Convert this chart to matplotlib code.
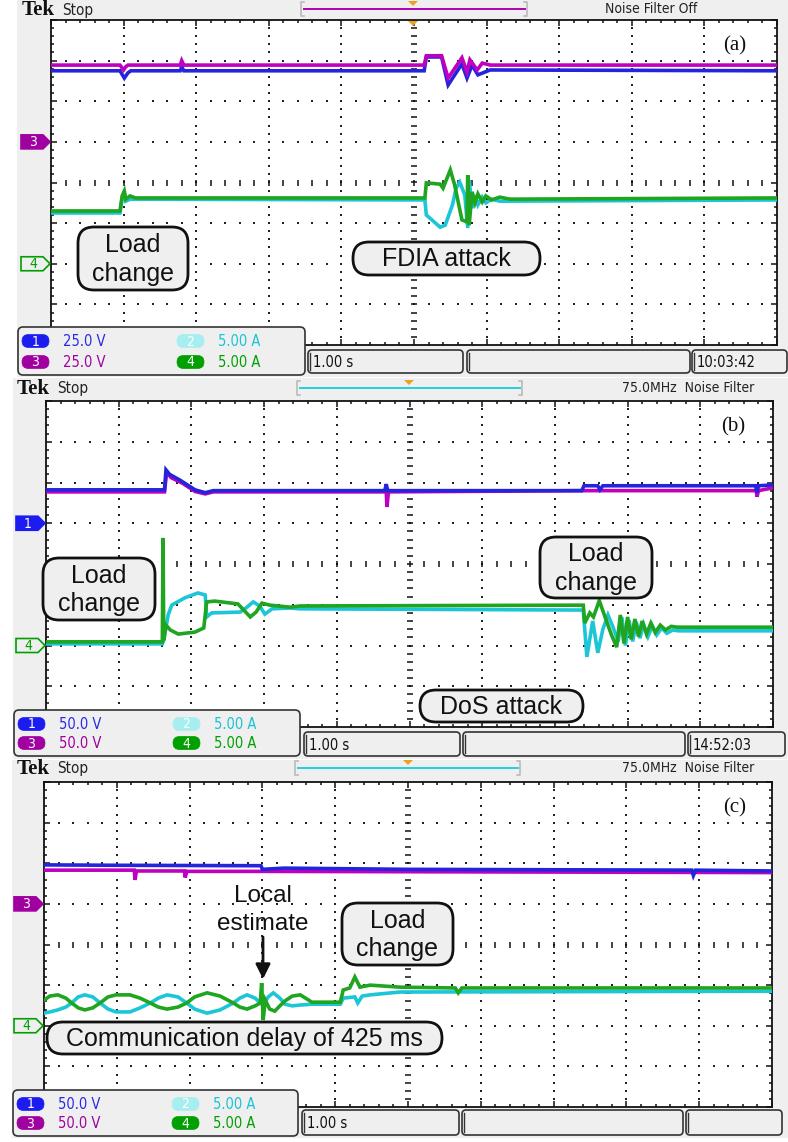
import matplotlib
matplotlib.use('Agg')
import matplotlib.pyplot as plt
import numpy as np
from matplotlib.patches import FancyBboxPatch, Polygon, Rectangle

W, H = 788, 1142

# ---- trace data: time in s (1.00 s/div), level in screen divisions ----
# panel (a)  FDIA attack
a_t_ch1 = [0, 0.95, 1.01, 1.06, 1.10, 1.78, 1.80, 1.83, 5.14, 5.17, 5.38, 5.47, 5.66, 5.73, 5.80, 5.88, 6.05, 10]
a_ch1 = [2.75, 2.75, 2.57, 2.70, 2.75, 2.75, 2.85, 2.75, 2.75, 3.09, 3.09, 2.40, 2.92, 2.57, 2.89, 2.65, 2.77, 2.75]
a_t_ch3 = [0, 0.95, 1.0, 1.03, 1.06, 1.78, 1.80, 1.83, 5.14, 5.17, 5.38, 5.47, 5.66, 5.73, 5.77, 5.87, 5.94, 6.05, 10]
a_ch3 = [2.89, 2.89, 2.77, 2.85, 2.89, 2.89, 3.0, 2.89, 2.89, 3.12, 3.12, 2.57, 3.07, 2.72, 3.02, 2.77, 2.94, 2.89, 2.89]
a_t_ch4 = [0, 0.95, 0.98, 1.01, 1.03, 1.09, 1.16, 5.15, 5.17, 5.36, 5.40, 5.50, 5.56, 5.66, 5.73, 5.74,
           5.76, 5.80, 5.84, 5.88, 5.94, 5.99, 6.07, 6.18, 6.32, 10]
a_ch4 = [-0.70, -0.70, -0.33, -0.21, -0.41, -0.33, -0.38, -0.38, -0.01, -0.04, -0.14, 0.31, -0.06, -0.92, -0.97, 0.18,
         -1.05, -0.23, -0.50, -0.28, -0.48, -0.33, -0.43, -0.36, -0.41, -0.38]
a_t_ch2 = [0, 0.95, 0.98, 1.01, 1.03, 1.09, 5.15, 5.17, 5.36, 5.43, 5.53, 5.58, 5.63, 5.70, 5.74, 5.76,
           5.80, 5.84, 5.88, 5.94, 5.99, 6.07, 6.18, 10]
a_ch2 = [-0.75, -0.75, -0.41, -0.26, -0.46, -0.41, -0.43, -0.80, -1.10, -1.05, -0.55, -0.14, 0.01, -0.31, -1.12, 0.06,
         -0.63, -0.31, -0.55, -0.36, -0.50, -0.41, -0.46, -0.43]

# panel (b)  DoS attack
b_t_ch1 = [0, 1.63, 1.65, 1.70, 1.85, 2.05, 2.19, 2.30, 4.66, 4.68, 4.70, 7.37, 7.40, 7.59, 7.62, 7.66, 9.76, 9.78, 9.80, 10]
b_ch1 = [1.82, 1.82, 2.31, 2.20, 2.05, 1.82, 1.75, 1.80, 1.80, 1.96, 1.80, 1.80, 1.92, 1.92, 1.82, 1.92, 1.92, 1.75, 1.92, 1.94]
b_t_ch3 = [0, 1.63, 1.66, 1.72, 1.88, 2.05, 2.19, 2.30, 4.68, 4.69, 4.71, 7.4, 9.77, 9.78, 9.80, 10]
b_ch3 = [1.77, 1.77, 2.25, 2.12, 1.98, 1.78, 1.72, 1.77, 1.77, 1.40, 1.77, 1.80, 1.80, 1.65, 1.80, 1.87]
b_t_ch4 = [0, 1.60, 1.61, 1.62, 1.65, 1.71, 1.82, 2.05, 2.17, 2.21, 2.32, 2.64, 2.81, 2.89, 2.97, 3.08, 3.36, 3.49,
           7.35, 7.39, 7.41, 7.48, 7.53, 7.61, 7.70, 7.78, 7.85, 7.90, 7.95, 8.00, 8.05, 8.10, 8.15, 8.20, 8.26,
           8.32, 8.38, 8.45, 8.52, 8.60, 8.68, 10]
b_ch4 = [-1.91, -1.91, 0.64, -1.87, -1.50, -1.62, -1.72, -1.67, -1.57, -0.93, -0.91, -0.98, -1.30, -1.18, -0.96,
         -1.01, -1.06, -1.03, -1.01, -1.01, -1.45, -1.20, -1.30, -0.90, -1.35, -1.75, -2.04, -1.25, -1.95, -1.30,
         -1.85, -1.35, -1.78, -1.40, -1.72, -1.45, -1.68, -1.50, -1.62, -1.53, -1.55, -1.55]
b_t_ch2 = [0, 1.60, 1.62, 1.68, 1.73, 1.91, 2.09, 2.19, 2.21, 2.28, 2.67, 2.75, 2.85, 2.94, 3.01, 3.11, 3.36, 3.49,
           7.35, 7.39, 7.44, 7.52, 7.59, 7.66, 7.73, 7.80, 7.87, 7.92, 7.97, 8.02, 8.07, 8.12, 8.17, 8.22, 8.28,
           8.34, 8.40, 8.47, 8.54, 8.62, 8.70, 10]
b_ch2 = [-1.96, -1.96, -1.87, -1.25, -1.01, -0.83, -0.71, -0.76, -1.30, -1.20, -1.18, -1.08, -0.93, -1.03, -1.23,
         -1.10, -1.08, -1.10, -1.13, -1.13, -2.28, -1.40, -2.18, -1.60, -1.25, -1.55, -1.91, -1.30, -2.00, -1.38,
         -1.90, -1.42, -1.82, -1.48, -1.78, -1.52, -1.74, -1.57, -1.70, -1.62, -1.64, -1.64]

# panel (c)  communication delay
c_t_ch1 = [0, 1.0, 2.8, 2.98, 3.0, 3.3, 5.0, 8.9, 8.92, 8.95, 10]
c_ch1 = [1.96, 1.95, 1.94, 1.94, 1.85, 1.88, 1.85, 1.83, 1.70, 1.83, 1.81]
c_t_ch3 = [0, 1.24, 1.25, 1.27, 1.93, 1.94, 1.96, 3.0, 10]
c_ch3 = [1.83, 1.83, 1.59, 1.81, 1.81, 1.65, 1.80, 1.80, 1.77]
c_t_ch4 = [0.00, 0.08, 0.19, 0.30, 0.38, 0.47, 0.56, 0.67, 0.77, 0.88, 0.99, 1.18, 1.32, 1.46, 1.57, 1.69, 1.84,
           1.96, 2.07, 2.24, 2.42, 2.60, 2.69, 2.79, 2.90, 2.97, 2.99, 3.01, 3.04, 3.10, 3.17, 3.24, 3.31, 3.41,
           3.52, 3.61, 3.68, 4.07, 4.11, 4.20, 4.27, 4.34, 4.48, 4.89, 5.65, 5.69, 5.74, 10]
c_ch4 = [-1.37, -1.27, -1.24, -1.32, -1.44, -1.56, -1.61, -1.56, -1.44, -1.29, -1.24, -1.24, -1.32, -1.44, -1.54,
         -1.59, -1.54, -1.44, -1.29, -1.19, -1.27, -1.44, -1.54, -1.59, -1.51, -1.44, -0.95, -1.86, -1.37, -1.59,
         -1.64, -1.51, -1.39, -1.27, -1.24, -1.34, -1.42, -1.42, -1.12, -1.07, -0.80, -1.05, -1.00, -1.05, -1.07,
         -1.19, -1.07, -1.07]
c_t_ch2 = [0.00, 0.08, 0.19, 0.30, 0.38, 0.47, 0.56, 0.67, 0.77, 0.88, 0.99, 1.18, 1.32, 1.46, 1.57, 1.69, 1.84,
           1.96, 2.07, 2.24, 2.42, 2.60, 2.69, 2.79, 2.90, 2.97, 3.01, 3.08, 3.15, 3.24, 3.31, 3.41, 3.52, 3.68,
           4.07, 4.11, 4.27, 4.31, 4.37, 4.48, 4.89, 10]
c_ch2 = [-1.69, -1.66, -1.61, -1.54, -1.44, -1.29, -1.24, -1.29, -1.44, -1.59, -1.66, -1.66, -1.56, -1.44, -1.32,
         -1.24, -1.29, -1.44, -1.59, -1.69, -1.61, -1.44, -1.32, -1.24, -1.32, -1.44, -1.49, -1.29, -1.19, -1.32,
         -1.47, -1.51, -1.49, -1.47, -1.47, -1.32, -1.29, -1.44, -1.27, -1.24, -1.17, -1.15]

# channel offset markers (label, level in div)
a_markers = [('3', 1.0), ('4', -2.0)]
b_markers = [('1', 1.0), ('4', -2.0)]
c_markers = [('3', 1.0), ('4', -2.0)]

# readouts
a_scales = ['25.0 V', '5.00 A', '25.0 V', '5.00 A']
b_scales = ['50.0 V', '5.00 A', '50.0 V', '5.00 A']
c_scales = ['50.0 V', '5.00 A', '50.0 V', '5.00 A']
timebase = '1.00 s'
clocks = ['10:03:42', '14:52:03', '']
filters = ['Noise Filter Off', '75.0MHz  Noise Filter', '75.0MHz  Noise Filter']

COL = {'1': '#2424dc', '2': '#1cc6d6', '3': '#c000c0', '4': '#1fa51f'}
BADGE = {'1': '#1c1cf0', '2': '#a6eef0', '3': '#a000a0', '4': '#00a000'}
TXT = {'1': '#2a2ae6', '2': '#18c4d6', '3': '#a000a0', '4': '#00a000'}
GRAY = '#efefef'
SANS = 'Liberation Sans'
NARROW = dict(fontfamily='DejaVu Sans', fontstretch='condensed')

fig = plt.figure(figsize=(W / 100, H / 100), dpi=100)
bg = fig.add_axes([0, 0, 1, 1], zorder=0)
top = fig.add_axes([0, 0, 1, 1], zorder=3)
for a in (bg, top):
    a.set_xlim(0, W)
    a.set_ylim(H, 0)
    a.axis('off')
top.patch.set_alpha(0)

panels = [
    dict(bg=(17, 0, 788, 377), box=(51, 20, 777, 345), hy=9, trig=(301, 527, 413), tcol='#b000b0',
         traces=[(a_t_ch2, a_ch2, '2'), (a_t_ch4, a_ch4, '4'), (a_t_ch1, a_ch1, '1'), (a_t_ch3, a_ch3, '3')],
         markers=a_markers, scales=a_scales, sb=(18, 327, 305, 375), boxes=(308, 463, 467, 690, 692, 787, 350, 373),
         tekx=22),
    dict(bg=(13, 378, 788, 759), box=(46, 401, 773, 727), hy=388, trig=(297, 522, 409), tcol='#20d0e0',
         traces=[(b_t_ch2, b_ch2, '2'), (b_t_ch4, b_ch4, '4'), (b_t_ch3, b_ch3, '3'), (b_t_ch1, b_ch1, '1')],
         markers=b_markers, scales=b_scales, sb=(14, 710, 300, 756), boxes=(304, 460, 463, 685, 688, 785, 732, 756),
         tekx=17),
    dict(bg=(12, 760, 788, 1138), box=(44, 782, 772, 1107), hy=768, trig=(295, 520, 408), tcol='#20d0e0',
         traces=[(c_t_ch2, c_ch2, '2'), (c_t_ch4, c_ch4, '4'), (c_t_ch3, c_ch3, '3'), (c_t_ch1, c_ch1, '1')],
         markers=c_markers, scales=c_scales, sb=(13, 1090, 298, 1136), boxes=(302, 459, 462, 683, 686, 782, 1110, 1135),
         tekx=17),
]


def rbox(ax, x0, y0, x1, y1, r, fc=GRAY, ec='#111', lw=1.5, z=5):
    p = FancyBboxPatch((x0, y0), x1 - x0, y1 - y0, boxstyle='round,pad=0,rounding_size=%g' % r,
                       fc=fc, ec=ec, lw=lw, zorder=z)
    ax.add_patch(p)


for k, p in enumerate(panels):
    gx0, gy0, gx1, gy1 = p['bg']
    bg.add_patch(Rectangle((gx0, gy0), gx1 - gx0, gy1 - gy0, fc=GRAY, ec='none'))
    x0, y0, x1, y1 = p['box']
    ax = fig.add_axes([x0 / W, 1 - y1 / H, (x1 - x0) / W, (y1 - y0) / H], zorder=2)
    ax.set_xlim(0, 10)
    ax.set_ylim(-4, 4)
    ax.set_facecolor('white')
    for s in ax.spines.values():
        s.set_linewidth(1.3)
        s.set_color('#111')
    ax.set_xticks(range(11))
    ax.set_xticks(np.arange(0, 10.01, 0.2), minor=True)
    ax.set_yticks(range(-4, 5))
    ax.set_yticks(np.arange(-4, 4.01, 0.2), minor=True)
    ax.tick_params(which='both', direction='in', top=True, right=True, labelbottom=False,
                   labelleft=False, width=1.1, color='#111')
    ax.tick_params(which='major', length=4)
    ax.tick_params(which='minor', length=2.4)
    # dotted graticule
    vy = np.arange(-3.8, 4, 0.2)
    for gxl in [1, 2, 3, 4, 6, 7, 8, 9]:
        ax.scatter(np.full(vy.size, gxl), vy, s=2.5, marker='s', c='#222', linewidths=0, zorder=1)
    hx = np.arange(0.2, 10, 0.2)
    for gyl in [-3, -2, -1, 1, 2, 3]:
        ax.scatter(hx, np.full(hx.size, gyl), s=2.5, marker='s', c='#222', linewidths=0, zorder=1)
    ax.scatter(hx, np.zeros(hx.size), s=16, marker='|', c='#111', linewidths=1.1, zorder=1)
    ax.scatter(np.full(vy.size, 5), vy, s=16, marker='_', c='#111', linewidths=1.1, zorder=1)
    for t, v, ch in p['traces']:
        ax.plot(t, v, color=COL[ch], lw=2.6, zorder=3, solid_joinstyle='miter')

    # header
    hy = p['hy']
    top.text(p['tekx'], hy + 1, 'Tek', fontfamily='Liberation Serif', fontweight='bold', fontsize=15,
             va='center', ha='left', color='#111')
    top.text(p['tekx'] + 40, hy + 1, 'Stop', fontsize=11, va='center', ha='left', color='#222', **NARROW)
    tx0, tx1, tri = p['trig']
    top.plot([tx0 + 3, tx1 - 2], [hy, hy], color=p['tcol'], lw=1.4)
    top.plot([tx0 + 3, tx0, tx0, tx0 + 3], [hy - 7, hy - 7, hy + 7, hy + 7], color='#bbb', lw=1.2)
    top.plot([tx1 - 3, tx1, tx1, tx1 - 3], [hy - 7, hy - 7, hy + 7, hy + 7], color='#bbb', lw=1.2)
    top.add_patch(Polygon([[tri - 5, hy - 8], [tri + 5, hy - 8], [tri, hy - 3]], closed=True, fc='#f0a020', ec='none'))
    if k == 0:
        top.add_patch(Polygon([[tri - 5, y0 + 1], [tri + 5, y0 + 1], [tri, y0 + 6]], closed=True, fc='#f0a020', ec='none'))
    top.text(688 if k else 651, hy, filters[k], fontsize=10, va='center', ha='center', color='#222', **NARROW)

    # channel markers on the left edge
    cy = (y0 + y1) / 2
    pdiv = (y1 - y0) / 8
    for lab, lev in p['markers']:
        my = cy - lev * pdiv
        pts = [[x0 - 30, my - 7], [x0 - 8, my - 7], [x0 - 1, my], [x0 - 8, my + 7], [x0 - 30, my + 7]]
        if lab == '4':
            top.add_patch(Polygon(pts, closed=True, fc=GRAY, ec=BADGE[lab], lw=1.2, zorder=6))
            top.text(x0 - 18, my + 0.5, lab, color=BADGE[lab], fontsize=10, ha='center', va='center', zorder=7,
                     **NARROW)
        else:
            top.add_patch(Polygon(pts, closed=True, fc=BADGE[lab], ec=BADGE[lab], lw=1.2, zorder=6))
            top.text(x0 - 18, my + 0.5, lab, color='white', fontsize=10, ha='center', va='center', zorder=7,
                     **NARROW)

    # status bar
    sx0, sy0, sx1, sy1 = p['sb']
    rbox(top, sx0, sy0, sx1, sy1, 5, ec='#333', lw=1.2)
    rows = [sy0 + 14, sy1 - 13]
    for i, ch in enumerate(['1', '2', '3', '4']):
        bx = sx0 + 4 if i in (0, 2) else sx0 + 159
        ry = rows[i // 2]
        rbox(top, bx, ry - 6.5, bx + 27, ry + 6.5, 6.5, fc=BADGE[ch], ec=BADGE[ch], lw=0.5, z=6)
        top.text(bx + 13.5, ry + 0.5, ch, color='white', fontsize=10, ha='center', va='center', zorder=7, **NARROW)
        top.text(bx + 41, ry + 0.5, p['scales'][i], color=TXT[ch], fontsize=10.5, ha='left', va='center',
                 zorder=7, **NARROW)
    b1, b2, b3, b4, b5, b6, by0, by1 = p['boxes']
    for bl, br in ((b1, b2), (b3, b4), (b5, b6)):
        rbox(top, bl, by0, br, by1, 4, ec='#333', lw=1.2)
        top.plot([bl + 2.5, bl + 2.5], [by0 + 3, by1 - 3], color='#333', lw=1.0, zorder=6)
    top.text(b1 + 5, (by0 + by1) / 2 + 1, timebase, color='#111', fontsize=10.5, ha='left', va='center',
             zorder=7, **NARROW)
    top.text(b5 + 5, (by0 + by1) / 2 + 1, clocks[k], color='#111', fontsize=10.5, ha='left', va='center',
             zorder=7, **NARROW)

# panel labels
top.text(735, 46, '(a)', fontfamily='Liberation Serif', fontsize=15, ha='center', va='center', color='#111')
top.text(733, 427, '(b)', fontfamily='Liberation Serif', fontsize=15, ha='center', va='center', color='#111')
top.text(735, 808, '(c)', fontfamily='Liberation Serif', fontsize=15, ha='center', va='center', color='#111')

# callout boxes
callouts = [
    ('Load\nchange', 78, 227, 188, 290, 16),
    ('FDIA attack', 353, 242, 540, 275, 16),
    ('Load\nchange', 43, 558, 155, 620, 16),
    ('Load\nchange', 540, 537, 652, 598, 16),
    ('DoS attack', 420, 690, 583, 722, 16),
    ('Load\nchange', 342, 903, 453, 965, 16),
    ('Communication delay of 425 ms', 47, 1022, 442, 1054, 16),
]
for txt, lx0, ly0, lx1, ly1, r in callouts:
    rr = min(r, (ly1 - ly0) / 2)
    rbox(top, lx0, ly0, lx1, ly1, rr, ec='#111', lw=2.0, z=8)
    top.text((lx0 + lx1) / 2, (ly0 + ly1) / 2 + 1, txt, fontfamily=SANS, fontsize=18, ha='center',
             va='center', linespacing=1.25, color='#111', zorder=9)

top.text(263, 910, 'Local\nestimate', fontfamily=SANS, fontsize=17.5, ha='center', va='center',
         linespacing=1.3, color='#111', zorder=9)
top.annotate('', xy=(263, 979), xytext=(263, 937),
             arrowprops=dict(arrowstyle='-|>', lw=2.0, color='#111', mutation_scale=22, shrinkA=0, shrinkB=0),
             zorder=9)

fig.savefig('out.png', dpi=100)
